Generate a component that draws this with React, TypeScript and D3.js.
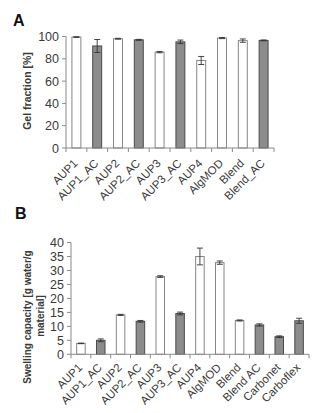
import React from "react";
import * as d3 from "d3";

const catsA = ["AUP1", "AUP1_AC", "AUP2", "AUP2_AC", "AUP3", "AUP3_AC", "AUP4", "AlgMOD", "Blend", "Blend_AC"];
const valsA = [99.5, 91.5, 98, 97, 86, 95.2, 78.5, 98.6, 96.3, 96.5];
const errA = [0.3, 5.8, 0.4, 0.4, 0.6, 1.6, 3.6, 0.5, 1.5, 0.4];
const grayA = [false, true, false, true, false, true, false, false, false, true];
const ticksA = [0, 20, 40, 60, 80, 100];

const catsB = ["AUP1", "AUP1_AC", "AUP2", "AUP2_AC", "AUP3", "AUP3_AC", "AUP4", "AlgMOD", "Blend", "Blend AC", "Carbonet", "Carboflex"];
const valsB = [3.9, 5.0, 14.1, 11.8, 27.8, 14.6, 35.0, 32.8, 12.1, 10.5, 6.3, 12.0];
const errB = [0.1, 0.5, 0.2, 0.3, 0.3, 0.5, 3.0, 0.6, 0.2, 0.4, 0.3, 0.9];
const grayB = [false, true, false, true, false, true, false, false, false, true, true, true];
const ticksB = [0, 5, 10, 15, 20, 25, 30, 35, 40];

const FONT = "'Liberation Sans', Arial, sans-serif";
const AXIS = "#8a8a8a";
const TXT = "#3a3a3a";

type PanelProps = {
  cats: string[];
  vals: number[];
  errs: number[];
  gray: boolean[];
  ticks: number[];
  x0: number;
  x1: number;
  y0: number;
  y1: number;
  maxV: number;
  labelDy: number;
};

function Panel({ cats, vals, errs, gray, ticks, x0, x1, y0, y1, maxV, labelDy }: PanelProps) {
  const x = d3.scaleBand<string>().domain(cats).range([x0, x1]).padding(0);
  const y = d3.scaleLinear().domain([0, maxV]).range([y0, y1]);
  const bw = x.bandwidth() * 0.43;
  const bounds = d3.range(cats.length + 1).map((i) => x0 + i * x.step());
  return (
    <g>
      {cats.map((c, i) => {
        const cx = (x(c) as number) + x.bandwidth() / 2;
        const top = y(vals[i]);
        const et = y(vals[i] + errs[i]);
        const eb = y(vals[i] - errs[i]);
        return (
          <g key={c}>
            <rect
              x={cx - bw / 2}
              y={top}
              width={bw}
              height={y0 - top}
              fill={gray[i] ? "#8c8c8c" : "#ffffff"}
              stroke={gray[i] ? "#4a4a4a" : "#858585"}
              strokeWidth={1}
            />
            <line x1={cx} x2={cx} y1={et} y2={eb} stroke="#333" strokeWidth={0.9} />
            <line x1={cx - 3} x2={cx + 3} y1={et} y2={et} stroke="#333" strokeWidth={0.9} />
            <line x1={cx - 3} x2={cx + 3} y1={eb} y2={eb} stroke="#333" strokeWidth={0.9} />
            <text
              transform={`translate(${cx + 2},${y0 + labelDy}) rotate(-45)`}
              textAnchor="end"
              fontFamily={FONT}
              fontSize={11.5}
              fill={TXT}
            >
              {c}
            </text>
          </g>
        );
      })}
      <line x1={x0} x2={x0} y1={y0} y2={y(maxV)} stroke={AXIS} strokeWidth={1} />
      <line x1={x0} x2={x1} y1={y0} y2={y0} stroke={AXIS} strokeWidth={1} />
      {bounds.map((b, i) => (
        <line key={"xb" + i} x1={b} x2={b} y1={y0} y2={y0 + 4} stroke={AXIS} strokeWidth={1} />
      ))}
      {ticks.map((t) => (
        <g key={"t" + t}>
          <line x1={x0 - 4} x2={x0} y1={y(t)} y2={y(t)} stroke={AXIS} strokeWidth={1} />
          <text
            x={x0 - 7}
            y={y(t)}
            dy="0.36em"
            textAnchor="end"
            fontFamily={FONT}
            fontSize={12.5}
            fill={TXT}
          >
            {t}
          </text>
        </g>
      ))}
    </g>
  );
}

export default function App() {
  return (
    <svg width={336} height={413} style={{ position: "absolute", left: 0, top: 0, background: "#fff" }}>
      <rect x={0} y={0} width={336} height={413} fill="#fff" />
      <text x={13} y={26} fontFamily={FONT} fontWeight="bold" fontSize={16} fill="#111">A</text>
      <text x={15} y={219} fontFamily={FONT} fontWeight="bold" fontSize={16} fill="#111">B</text>

      <text
        transform="translate(31,91) rotate(-90)"
        textAnchor="middle"
        fontFamily={FONT}
        fontWeight="bold"
        fontSize={10.5}
        fill={TXT}
      >
        Gel fraction [%]
      </text>
      <text
        transform="translate(30.5,317) rotate(-90)"
        textAnchor="middle"
        fontFamily={FONT}
        fontWeight="bold"
        fontSize={10}
        fill={TXT}
      >
        Swelling capacity [g water/g
      </text>
      <text
        transform="translate(44,316) rotate(-90)"
        textAnchor="middle"
        fontFamily={FONT}
        fontWeight="bold"
        fontSize={10}
        fill={TXT}
      >
        material]
      </text>

      <Panel
        cats={catsA}
        vals={valsA}
        errs={errA}
        gray={grayA}
        ticks={ticksA}
        x0={66}
        x1={274}
        y0={148}
        y1={36.5}
        maxV={100}
        labelDy={16}
      />
      <Panel
        cats={catsB}
        vals={valsB}
        errs={errB}
        gray={grayB}
        ticks={ticksB}
        x0={71}
        x1={309}
        y0={354.3}
        y1={242.5}
        maxV={40}
        labelDy={14}
      />
    </svg>
  );
}
